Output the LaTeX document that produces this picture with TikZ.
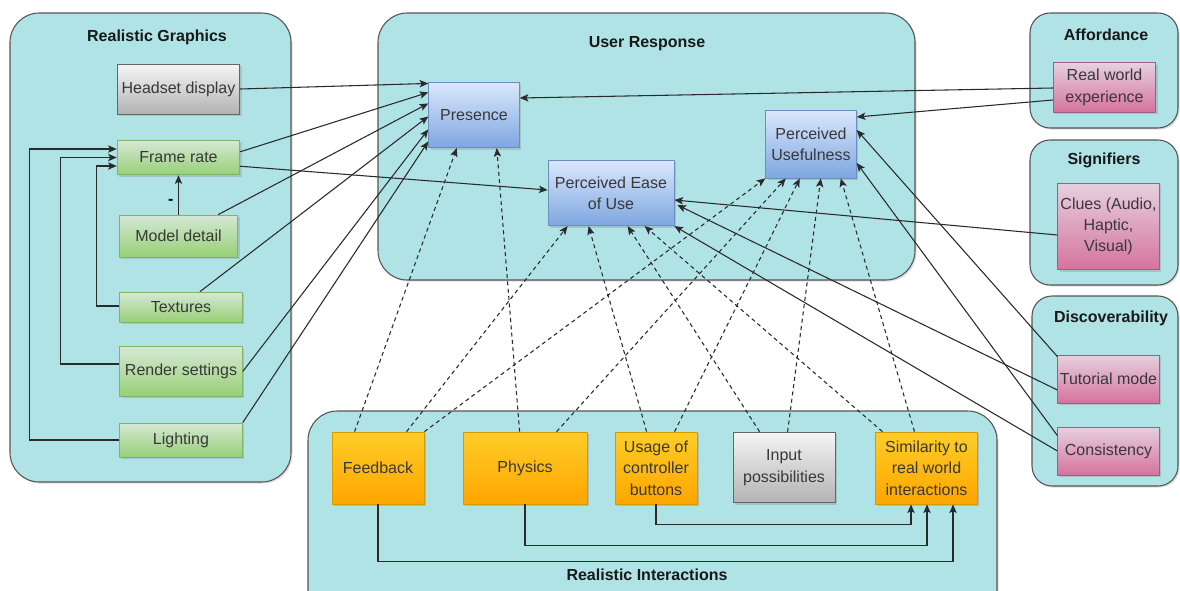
\documentclass[tikz,border=0pt]{standalone}
\usepackage{fontspec}
\setmainfont{Liberation Sans}
\usetikzlibrary{arrows.meta,calc,shadows}
\definecolor{contfill}{HTML}{B0E3E6}
\definecolor{contdraw}{HTML}{555555}
\definecolor{linec}{HTML}{2A2A2A}
\definecolor{greenstroke}{HTML}{82B366}
\definecolor{greystroke}{HTML}{666666}
\begin{document}
\begin{tikzpicture}[x=0.75pt,y=-0.75pt,
  font=\fontsize{12}{16}\selectfont,
  cont/.style={fill=contfill,draw=contdraw,line width=0.8pt,rounded corners=22pt,
    drop shadow={shadow xshift=1.2pt,shadow yshift=-1.2pt,opacity=0.25}},
  rcont/.style={cont,rounded corners=15pt},
  ttl/.style={font=\fontsize{12}{16}\selectfont\bfseries,text=black!90},
  box/.style={rectangle,inner sep=1pt,align=center,text=black!78,line width=0.6pt,
    drop shadow={shadow xshift=1.5pt,shadow yshift=-1.5pt,opacity=0.3}},
  greybox/.style={box,draw=greystroke,top color=white!96!black,bottom color=black!30},
  greenbox/.style={box,draw=greenstroke,top color={rgb,255:red,213;green,232;blue,212},bottom color={rgb,255:red,151;green,208;blue,119}},
  bluebox/.style={box,draw={rgb,255:red,108;green,142;blue,191},top color={rgb,255:red,218;green,232;blue,252},bottom color={rgb,255:red,126;green,166;blue,224}},
  pinkbox/.style={box,draw={rgb,255:red,153;green,97;blue,133},top color={rgb,255:red,230;green,208;blue,222},bottom color={rgb,255:red,213;green,115;blue,157}},
  orangebox/.style={box,draw={rgb,255:red,215;green,155;blue,0},top color={rgb,255:red,255;green,205;blue,40},bottom color={rgb,255:red,255;green,165;blue,0}},
  arr/.style={draw=linec,line width=0.8pt,-{Stealth[length=6.5pt,width=5.5pt,inset=1.5pt]}},
  darr/.style={arr,dash pattern=on 3pt off 2.5pt}
]
\useasboundingbox (0,0) rectangle (1180,590);
\clip (0,0) rectangle (1180,590);

% containers
\path[cont] (10,13) rectangle (291,482);
\path[cont] (378,13) rectangle (915,280);
\path[rcont] (1030,13) rectangle (1178,128);
\path[rcont] (1030,140) rectangle (1178,285);
\path[rcont] (1032,296) rectangle (1178,486);
\path[cont] (308,411) rectangle (997,620);

\node[ttl] (t1) at (157,37) {Realistic Graphics};
\node[ttl] (t2) at (647,44) {User Response};
\node[ttl] (t3) at (1106,35) {Affordance};
\node[ttl] (t4) at (1104,160) {Signifiers};
\node[ttl] (t5) at (1111,318) {Discoverability};
\node[ttl] (t6) at (647,575) {Realistic Interactions};

% realistic graphics nodes
\node[greybox,minimum width=92pt,minimum height=37.5pt] (hd) at (178.5,89) {Headset display};
\node[greenbox,minimum width=92pt,minimum height=26pt] (fr) at (178.5,157.5) {Frame rate};
\node[greenbox,minimum width=89pt,minimum height=31.5pt] (md) at (178.5,236) {Model detail};
\node[greenbox,minimum width=92pt,minimum height=22.5pt] (tx) at (181,307) {Textures};
\node[greenbox,minimum width=92pt,minimum height=37pt] (rs) at (181,371.5) {Render settings};
\node[greenbox,minimum width=92pt,minimum height=25.5pt] (li) at (181,440) {Lighting};

% user response nodes
\node[bluebox,minimum width=68pt,minimum height=49pt] (pr) at (474,115) {Presence};
\node[bluebox,minimum width=94.5pt,minimum height=49pt] (pe) at (611,193) {Perceived Ease\\of Use};
\node[bluebox,minimum width=68pt,minimum height=51pt] (pu) at (811,144) {Perceived\\Usefulness};

% right nodes
\node[pinkbox,minimum width=77pt,minimum height=37pt] (rw) at (1104.5,87.5) {Real world\\experience};
\node[pinkbox,minimum width=76pt,minimum height=65pt] (cl) at (1108.5,226.5) {Clues (Audio,\\Haptic,\\Visual)};
\node[pinkbox,minimum width=76pt,minimum height=36pt] (tm) at (1108.5,379) {Tutorial mode};
\node[pinkbox,minimum width=76pt,minimum height=36pt] (co) at (1108.5,451) {Consistency};

% interaction nodes
\node[orangebox,minimum width=69pt,minimum height=54pt] (fb) at (378,468) {Feedback};
\node[orangebox,minimum width=93pt,minimum height=54pt] (ph) at (525,468) {Physics};
\node[orangebox,minimum width=61.5pt,minimum height=54pt] (ub) at (656,468) {Usage of\\controller\\buttons};
\node[greybox,minimum width=76.5pt,minimum height=53pt] (ip) at (784,467.5) {Input\\possibilities};
\node[orangebox,minimum width=76pt,minimum height=54pt] (si) at (926.5,468) {Similarity to\\real world\\interactions};

% graphics -> presence
\draw[arr] (hd.east) -- ($(pr.north west)+(0,1.5)$);
\draw[arr] ($(fr.north east)+(0,12)$) -- ($(pr.north west)+(0,10.5)$);
\draw[arr] ($(md.north east)+(-20,0)$) -- ($(pr.north west)+(0,21.5)$);
\draw[arr] ($(tx.north)+(19,0)$) -- ($(pr.north west)+(0,34.5)$);
\draw[arr] (rs.east) -- ($(pr.north west)+(0,47.5)$);
\draw[arr] (li.north east) -- ($(pr.north west)+(0,59.5)$);
\draw[arr] ($(fr.south east)+(0,-9)$) -- ($(pe.west)+(0,-3)$);

% feedback loops into frame rate
\draw[arr] (li.west) -- ++(-89.5,0) |- ($(fr.west)+(0,-8.5)$);
\draw[arr] ($(rs.west)+(0,-7.5)$) -- ++(-58.5,0) |- (fr.west);
\draw[arr] ($(tx.west)+(0,-1)$) -- ++(-22.5,0) |- ($(fr.west)+(0,8.5)$);
\draw[arr] (md.north) -- node[pos=0.33,left=0pt,font=\fontsize{12}{14}\selectfont\bfseries] (mlab) {-} (fr.south);

% right side
\draw[arr] ($(rw.west)+(0,0.5)$) -- ($(pr.east)+(0,-17)$);
\draw[arr] ($(rw.west)+(0,12.5)$) -- ($(pu.east)+(0,-27)$);
\draw[arr] ($(cl.west)+(0,8.5)$) -- ($(pe.east)+(0,7)$);
\draw[arr] ($(tm.north west)+(0,2)$) -- ($(pu.east)+(0,-14)$);
\draw[arr] ($(tm.west)+(0,11)$) -- ($(pe.east)+(3,12)$);
\draw[arr] ($(co.north west)+(0,9)$) -- ($(pu.east)+(0,19)$);
\draw[arr] (co.west) -- (pe.south east);

% dashed from interactions
\draw[darr] ($(fb.north west)+(23,0)$) -- ($(pr.south west)+(28.5,0)$);
\draw[darr] ($(fb.north west)+(75,0)$) -- ($(pe.south west)+(20,0)$);
\draw[darr] (fb.north east) -- (pu.south west);
\draw[darr] ($(ph.north west)+(57,0)$) -- ($(pr.south west)+(68.5,0)$);
\draw[darr] ($(ph.north west)+(94,0)$) -- ($(pu.south west)+(20.5,0)$);
\draw[darr] ($(ub.north west)+(32,0)$) -- ($(pe.south west)+(41,0)$);
\draw[darr] ($(ub.north west)+(60,0)$) -- ($(pu.south west)+(34.5,0)$);
\draw[darr] ($(ip.north west)+(27,0)$) -- ($(pe.south west)+(80,0)$);
\draw[darr] ($(ip.north west)+(55,0)$) -- ($(pu.south west)+(55.5,0)$);
\draw[darr] ($(si.north west)+(7,0)$) -- ($(pe.south west)+(97,0)$);
\draw[darr] ($(si.north west)+(39,0)$) -- ($(pu.south west)+(75.5,0)$);

% bottom connectors
\draw[arr] (ub.south) -- ++(0,20) -| ($(si.south)+(-15.5,0)$);
\draw[arr] (ph.south) -- ++(0,41) -| ($(si.south)+(0.5,0)$);
\draw[arr] (fb.south) -- ++(0,57) -| ($(si.south)+(26.5,0)$);
\end{tikzpicture}
\end{document}
